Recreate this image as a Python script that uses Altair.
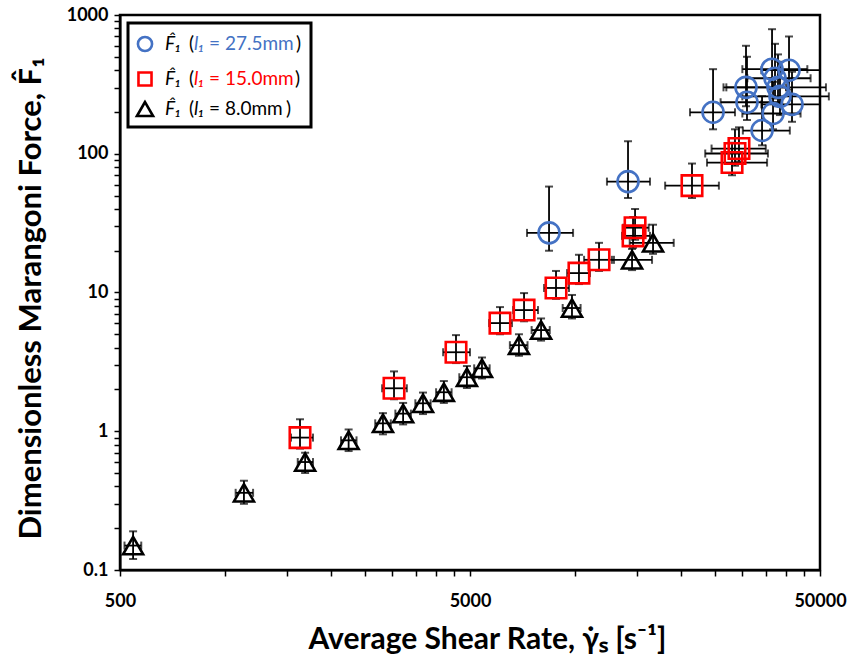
import altair as alt
import pandas as pd

# ---------------- data ----------------
series_names = ["27.5mm", "15.0mm", "8.0mm"]

# l1 = 27.5 mm (blue circles)
c_x   = [8410, 14140, 24740, 30730, 30930, 36470, 40780, 37190, 37930, 38430, 41590, 36710, 34150]
c_y   = [26.9, 63.0, 199, 301, 235, 407, 400, 350, 301, 259, 227, 195, 147]
c_xlo = [7275, 12310, 21260, 26500, 26000, 30000, 34000, 31000, 27000, 30000, 34000, 30000, 30100]
c_xhi = [9850, 16340, 28580, 40000, 39000, 46000, 50000, 47000, 52000, 53000, 50000, 44000, 41000]
c_ylo = [20, 48, 150, 220, 175, 290, 290, 250, 220, 190, 170, 150, 115]
c_yhi = [58, 123, 407, 600, 500, 790, 700, 620, 520, 460, 390, 330, 260]

# l1 = 15.0 mm (red squares)
s_x   = [1634, 3033, 4560, 6090, 7135, 8805, 10240, 11685, 14615, 14810, 21540, 28030, 28580, 29340]
s_y   = [0.90, 2.04, 3.71, 6.02, 7.47, 10.78, 13.8, 17.2, 25.6, 29.3, 58.9, 86.4, 100.4, 109]
s_xlo = [1540, 2805, 4190, 5670, 6640, 8140, 9470, 10590, 13590, 13700, 18050, 23770, 23500, 24500]
s_xhi = [1780, 3300, 5000, 6590, 7820, 9590, 11010, 12890, 16340, 16200, 25710, 35300, 35500, 35000]
s_ylo = [0.75, 1.7, 3.1, 5.0, 6.2, 9.0, 11.5, 14.3, 21, 24, 48, 70, 82, 88]
s_yhi = [1.22, 2.70, 4.93, 7.85, 9.9, 14.3, 18.7, 22.8, 35, 40, 85, 120, 150, 155]

# l1 = 8.0 mm (black triangles)
t_x   = [545, 1130, 1690, 2250, 2820, 3220, 3670, 4210, 4900, 5410, 6900, 7980, 9780, 14520, 16670]
t_y   = [0.15, 0.36, 0.60, 0.86, 1.14, 1.34, 1.59, 1.91, 2.45, 2.84, 4.17, 5.36, 7.73, 17.2, 22.8]
t_xlo = [515, 1070, 1610, 2140, 2680, 3060, 3490, 4000, 4660, 5140, 6500, 7500, 9200, 12720, 14300]
t_xhi = [575, 1200, 1780, 2370, 2970, 3390, 3860, 4430, 5150, 5690, 7300, 8450, 10350, 16560, 19100]
t_ylo = [0.12, 0.30, 0.50, 0.72, 0.95, 1.12, 1.33, 1.6, 2.05, 2.4, 3.5, 4.5, 6.5, 14.5, 19]
t_yhi = [0.19, 0.44, 0.70, 1.03, 1.35, 1.6, 1.9, 2.3, 2.95, 3.4, 5.0, 6.5, 9.6, 20.6, 30.8]

x_ticks = [500, 1000, 1500, 2000, 2500, 3000, 3500, 4000, 4500, 5000,
           10000, 15000, 20000, 25000, 30000, 35000, 40000, 45000, 50000]
x_labels = [500, 5000, 50000]
y_ticks = [0.1, 0.2, 0.3, 0.4, 0.5, 0.6, 0.7, 0.8, 0.9,
           1, 2, 3, 4, 5, 6, 7, 8, 9,
           10, 20, 30, 40, 50, 60, 70, 80, 90,
           100, 200, 300, 400, 500, 600, 700, 800, 900, 1000]
y_labels = [0.1, 1, 10, 100, 1000]

x_title = "Average Shear Rate, γ̇ₛ [s⁻¹]"
y_title = "Dimensionless Marangoni Force, F̂₁"

# ---------------- build table ----------------
rows = []
for name, xs_, ys_, xl, xh, yl, yh in [
    (series_names[2], t_x, t_y, t_xlo, t_xhi, t_ylo, t_yhi),
    (series_names[1], s_x, s_y, s_xlo, s_xhi, s_ylo, s_yhi),
    (series_names[0], c_x, c_y, c_xlo, c_xhi, c_ylo, c_yhi),
]:
    for i in range(len(xs_)):
        rows.append(dict(series=name, x=xs_[i], y=ys_[i], xlo=xl[i], xhi=xh[i], ylo=yl[i], yhi=yh[i]))
df = pd.DataFrame(rows)

COLORS = ["#4472C4", "#FF0000", "#000000"]
SHAPES = ["circle", "square", "triangle-up"]
FONT = "Lato"

xscale = alt.Scale(type="log", domain=[500, 50000], nice=False)
yscale = alt.Scale(type="log", domain=[0.1, 1000], nice=False)

def lab_expr(vals):
    cond = " || ".join(f"datum.value == {v}" for v in vals)
    return f"({cond}) ? format(datum.value, '~g') : ''"

xaxis = alt.Axis(values=x_ticks, labelExpr=lab_expr(x_labels), labelFont=FONT, labelFontSize=18,
                 labelFontWeight="bold", labelColor="black", labelPadding=16, labelOverlap=False,
                 labelFlush=False, tickSize=6, tickColor="black", tickWidth=1.5,
                 domainColor="black", domainWidth=2, grid=False,
                 title=x_title, titleFont=FONT, titleFontSize=30, titleFontWeight="bold",
                 titleColor="black", titleX=367, titleY=69, titleAlign="center",
                 titleBaseline="middle")
yaxis = alt.Axis(values=y_ticks, labelExpr=lab_expr(y_labels), labelFont=FONT, labelFontSize=18,
                 labelFontWeight="bold", labelColor="black", labelPadding=6, labelOverlap=False,
                 tickSize=6, tickColor="black", tickWidth=1.5,
                 domainColor="black", domainWidth=2, grid=False,
                 title=y_title, titleFont=FONT, titleFontSize=31, titleFontWeight="bold",
                 titleColor="black", titleX=-89, titleY=283, titleAlign="center",
                 titleBaseline="middle", titleAngle=270)

base = alt.Chart(df)
X = lambda f: alt.X(f, type="quantitative", scale=xscale, axis=xaxis)
Y = lambda f: alt.Y(f, type="quantitative", scale=yscale, axis=yaxis)

vbar = base.mark_rule(color="black", strokeWidth=1.8).encode(x=X("x"), y=Y("ylo"), y2="yhi")
hbar = base.mark_rule(color="black", strokeWidth=1.8).encode(y=Y("y"), x=X("xlo"), x2="xhi")
cap_lo = base.mark_tick(orient="horizontal", size=8, thickness=2, color="black").encode(x=X("x"), y=Y("ylo"))
cap_hi = base.mark_tick(orient="horizontal", size=8, thickness=2, color="black").encode(x=X("x"), y=Y("yhi"))
cap_l = base.mark_tick(orient="vertical", size=8, thickness=2, color="black").encode(x=X("xlo"), y=Y("y"))
cap_r = base.mark_tick(orient="vertical", size=8, thickness=2, color="black").encode(x=X("xhi"), y=Y("y"))

markers = base.mark_point(filled=False, strokeWidth=2.6, opacity=1).encode(
    x=X("x"), y=Y("y"),
    color=alt.Color("series:N", scale=alt.Scale(domain=series_names, range=COLORS), legend=None),
    shape=alt.Shape("series:N", scale=alt.Scale(domain=series_names, range=SHAPES), legend=None),
    size=alt.Size("series:N", scale=alt.Scale(domain=series_names, range=[440, 400, 420]), legend=None),
    order=alt.Order("series:N", sort="ascending"),
)

# ---------------- custom legend ----------------
one = alt.Data(values=[{}])
legend_layers = [
    alt.Chart(one).mark_rect(fill="white", stroke="black", strokeWidth=3).encode(
        x=alt.value(8), x2=alt.value(191), y=alt.value(8), y2=alt.value(112))
]
row_y = [29, 64, 94]
close_x = [176, 175, 166]
for i, name in enumerate(series_names):
    legend_layers.append(
        alt.Chart(one).mark_point(shape=SHAPES[i], size=[200, 170, 260][i], filled=False,
                                  strokeWidth=2.6, color=COLORS[i], opacity=1).encode(
            x=alt.value(25), y=alt.value(row_y[i])))
    segs = [("F̂₁", 45, "black", "italic"), ("(", 69, "black", "normal"),
            ("l₁", 74, COLORS[i], "italic"), ("= " + name, 89, COLORS[i], "normal"),
            (")", close_x[i], "black", "normal")]
    for txt, sx, col, sty in segs:
        legend_layers.append(
            alt.Chart(one).mark_text(text=txt, align="left", baseline="middle", font=FONT,
                                     fontSize=19, fontStyle=sty, color=col).encode(
                x=alt.value(sx), y=alt.value(row_y[i])))

chart = alt.layer(vbar, hbar, cap_lo, cap_hi, cap_l, cap_r, markers, *legend_layers).properties(
    width=700, height=555,
    padding={"left": 120, "top": 15, "right": 28, "bottom": 88},
    autosize=alt.AutoSizeParams(type="none"),
    background="white",
).configure_view(stroke="black", strokeWidth=2.5)

chart.save("out.html", embed_options={"renderer": "svg", "actions": False})
